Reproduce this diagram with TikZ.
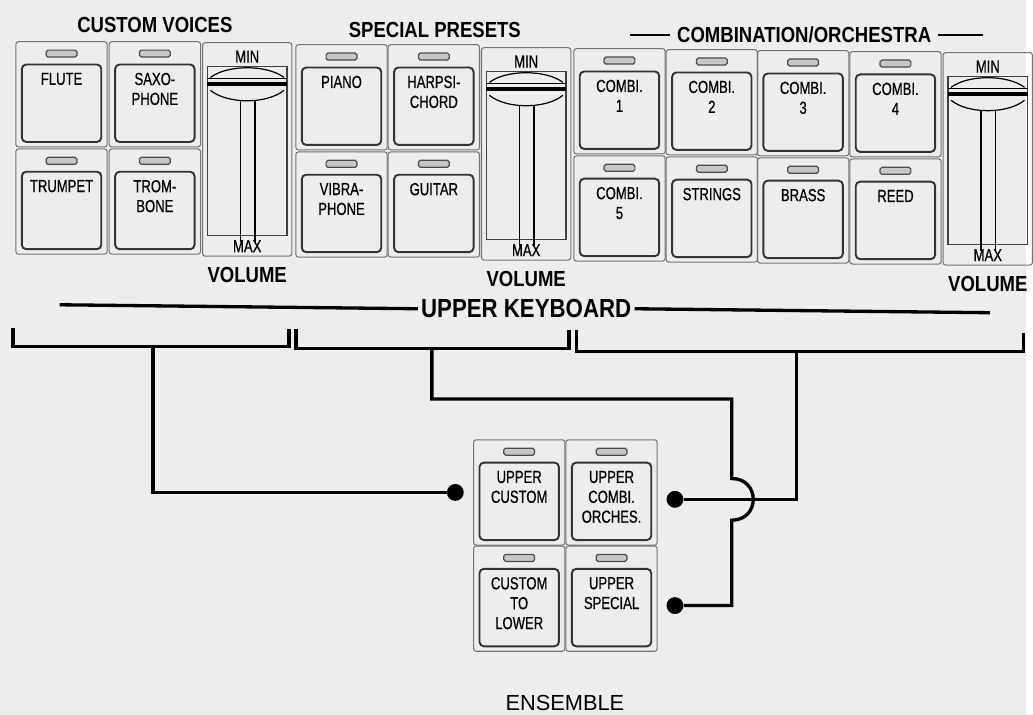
\documentclass[tikz,border=0pt]{standalone}
\usepackage{fontspec}
\newfontfamily\panelfont[FakeStretch=0.85]{Liberation Sans}
\newfontfamily\keyfont[FakeStretch=0.75,FakeBold=0.6]{Liberation Sans}
\newfontfamily\plainfont{Liberation Sans}
\usetikzlibrary{positioning}

\begin{document}
\begin{tikzpicture}[
    x=0.2mm, y=-0.2mm,
    frame/.style={
        draw=black!55, line width=0.6pt, rounded corners=1.5pt,
        minimum width=18.4mm, minimum height=21.2mm, inner sep=0
    },
    face/.style={
        draw=black!80, line width=1.1pt, rounded corners=2.5pt,
        minimum width=16mm, minimum height=15.6mm, inner sep=0
    },
    led/.style={
        draw=black!70, fill=black!22, line width=0.7pt, rounded corners=1pt,
        minimum width=6.2mm, minimum height=1.4mm, inner sep=0
    },
    keytext/.style={
        font=\keyfont\fontsize{10}{11.4}\selectfont,
        align=center, inner sep=0, anchor=north
    },
    title/.style={font=\panelfont\bfseries\fontsize{12.5}{14}\selectfont, inner sep=0},
    wire/.style={line width=1.9pt},
    dot/.style={circle, fill=black, minimum size=3.4mm, inner sep=0}
]
\fill[black!7] (0,0) rectangle (1033,720);

% group titles
\node[title] (custom)  at (156,25)  {CUSTOM VOICES};
\node[title] (special) at (438,30)  {SPECIAL PRESETS};
\node[title] (combi)   at (810,35)  {COMBINATION/ORCHESTRA};
\draw[line width=1pt] ([xshift=-1.4mm]combi.west) -- ++(-40,0);
\draw[line width=1pt] ([xshift=1.4mm]combi.east) -- ++(45,0);

% voice buttons
\foreach \nm/\cx/\cy/\txt in {
    flute/62/95/FLUTE, saxo/156/95/{SAXO-\\PHONE},
    trumpet/62/203/TRUMPET, trombone/156/203/{TROM-\\BONE},
    piano/344/98/PIANO, harpsi/437/98/{HARPSI-\\CHORD},
    vibra/344/206/{VIBRA-\\PHONE}, guitar/437/206/GUITAR,
    combi1/624/102/{COMBI.\\1}, combi2/717/103/{COMBI.\\2},
    combi3/809/104/{COMBI.\\3}, combi4/902/105/{COMBI.\\4},
    combi5/624/210/{COMBI.\\5}, strings/717/211/STRINGS,
    brass/809/212/BRASS, reed/902/213/REED,
    ucustom/523/496/{UPPER\\CUSTOM}, ucombi/616/496/{UPPER\\COMBI.\\ORCHES.},
    tolower/523/603/{CUSTOM\\TO\\LOWER}, uspecial/616/603/{UPPER\\SPECIAL}}
{
    \node[frame] (\nm) at (\cx,\cy) {};
    \node[led] at (\cx,\cy-41) {};
    \node[face] at (\cx,\cy+9) {};
    \node[keytext] at (\cx,\cy-22) {\txt};
}

% volume sliders
\foreach \cx/\top/\bot in {249/43/258, 530/48/262, 995/53/267}
{
    \draw[draw=black!55, line width=0.6pt, rounded corners=1.5pt]
        (\cx-45,\top) rectangle (\cx+45,\bot);
    \draw[draw=black!75, line width=0.8pt]
        (\cx-40,\top+24) rectangle (\cx+40,\bot-21);
    \draw[line width=0.7pt] (\cx-37,\top+35) .. controls (\cx-20,\top+22)
        and (\cx+20,\top+22) .. (\cx+37,\top+35);
    \draw[line width=0.5pt] (\cx-40,\top+36) -- (\cx+40,\top+36);
    \draw[line width=2.4pt] (\cx-40,\top+42) -- (\cx+40,\top+42);
    \draw[line width=0.7pt] (\cx-37,\top+48) .. controls (\cx-20,\top+62)
        and (\cx+20,\top+62) .. (\cx+37,\top+48);
    \draw[line width=0.8pt] (\cx-7,\top+58) -- (\cx-7,\bot-14)
        (\cx+8,\top+58) -- (\cx+8,\bot-14);
    \node[keytext, anchor=center] at (\cx,\top+14) {MIN};
    \node[keytext, anchor=center] at (\cx,\bot-10) {MAX};
    \node[title] at (\cx,\bot+19) {VOLUME};
}

% upper keyboard line and brackets
\node[font=\panelfont\bfseries\fontsize{15}{17}\selectfont, inner sep=0] (upper) at (530,311) {UPPER KEYBOARD};
\draw[wire] (60,307) -- ([xshift=-0.6mm]upper.west);
\draw[wire] ([xshift=0.6mm]upper.east) -- (997,315);
\draw[wire] (13,330) |- (291,349) -- (291,331);
\draw[wire] (298,331) |- (573,351) -- (573,332);
\draw[wire] (581,332) |- (1031,354) -- (1031,335);
\coordinate (brA) at (154,349);
\coordinate (brB) at (435,351);
\coordinate (brC) at (802,353);
\coordinate (bendB) at (737,402);
\coordinate (hopin) at (737,482);
\coordinate (hopout) at (737,524);

% ensemble
\node[dot, left=1.8mm of ucustom] (dotcustom) {};
\node[dot, right=1.7mm of ucombi, yshift=-1.4mm] (dotcombi) {};
\node[dot, right=1.7mm of uspecial, yshift=-1.4mm] (dotspecial) {};
\node[font=\plainfont\fontsize{12.5}{14}\selectfont, inner sep=0] (ensemble) at (569,708) {ENSEMBLE};

\draw[wire] (brA) |- (dotcustom);
\draw[wire] (brC) |- (dotcombi);
\draw[wire] (brB) |- (bendB) -- (hopin)
    .. controls (766,482) and (766,524) .. (hopout) |- (dotspecial);
\end{tikzpicture}
\end{document}
